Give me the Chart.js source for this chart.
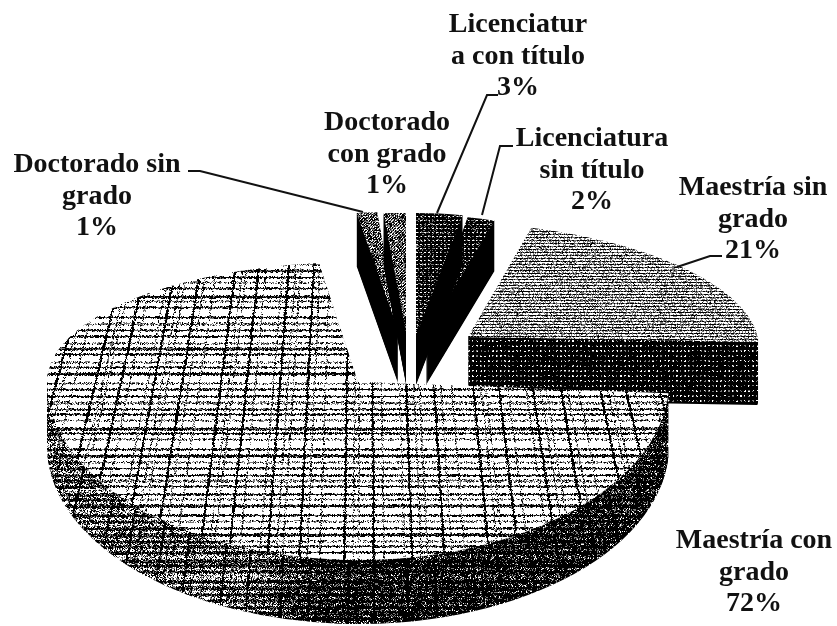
<!DOCTYPE html>
<html>
<head>
<meta charset="utf-8">
<style>
  html, body { margin: 0; background: #fff; }
  canvas { display: block; }
</style>
<script src="https://cdn.jsdelivr.net/npm/chart.js@4/dist/chart.umd.min.js"></script>
</head>
<body>
<canvas id="pieChart" width="837" height="626"></canvas>
<script>
const categories = ['Licenciatura con título', 'Licenciatura sin título', 'Maestría sin grado', 'Maestría con grado', 'Doctorado sin grado', 'Doctorado con grado'];
const percentValues = [3, 2, 21, 72, 1, 1];
const labelLines = [['Licenciatur', 'a con título'], ['Licenciatura', 'sin título'], ['Maestría sin', 'grado'], ['Maestría con', 'grado'], ['Doctorado sin', 'grado'], ['Doctorado', 'con grado']];

const W = 837, H = 626;

// where each exploded slice sits on the page, with a faked 3D tilt
const sliceLayout = [
    { x: 416, y: 335, rx: 249, up: 122, down: 80, depth: 50, lean: 0 },
    { x: 426, y: 335, rx: 222, up: 120, down: 80, depth: 50, lean: 0 },
    { x: 468, y: 337, rx: 290, up: 115, down: 80, depth: 63, lean: 0.24 },
    { x: 358, y: 382, rx: 311, up: 120, down: 178, depth: 64, lean: 0 },
    { x: 398, y: 330, rx: 330, up: 118, down: 80, depth: 53, lean: 0 },
    { x: 406, y: 332, rx: 358, up: 119, down: 80, depth: 52, lean: 0 }
];
const drawOrder = [4, 5, 1, 0, 2, 3];

const labelLayout = [
    { x: 518, y: 25 }, { x: 592, y: 139 }, { x: 753, y: 188 },
    { x: 754, y: 541 }, { x: 97, y: 165 }, { x: 387, y: 123 }
];
const leaderLines = [
    [[437, 213], [487, 95], [498, 95]],
    [[482, 215], [500, 146], [513, 146]],
    [[677, 267], [710, 256], [722, 256]],
    [[363, 212], [200, 171], [188, 171]]
];

function noise(x, y) {
    const s = Math.sin(x * 12.9898 + y * 78.233) * 43758.5453;
    return s - Math.floor(s);
}

// turns a brightness function into a scanned looking black and white bitmap
function makeTexture(ctx, paint, grain) {
    const c = document.createElement('canvas');
    c.width = W; c.height = H;
    const g = c.getContext('2d');
    const img = g.createImageData(W, H);
    for (let y = 0; y < H; y++) {
        for (let x = 0; x < W; x++) {
            const v = paint(x, y) + (noise(x, y) - 0.5) * grain;
            const p = v > 0.62 ? 255 : (v > 0.42 ? 120 : 0);
            const i = (y * W + x) * 4;
            img.data[i] = img.data[i + 1] = img.data[i + 2] = p;
            img.data[i + 3] = 255;
        }
    }
    g.putImageData(img, 0, 0);
    return ctx.createPattern(c, 'no-repeat');
}

// the woven look of the big slice: flat rows plus lines that meet far above the page
function weaveBrightness(rowDark, lineDark, rowSize, gapScale) {
    const c = document.createElement('canvas');
    c.width = W; c.height = H;
    const g = c.getContext('2d', { willReadFrequently: true });
    g.fillStyle = '#fff';
    g.fillRect(0, 0, W, H);
    const rows = [6, 7, 5, 6, 8, 5, 6, 10, 6, 7];
    let y = 0, n = 0;
    while (y < H) {
        g.fillStyle = rowDark[n % rowDark.length];
        g.fillRect(0, y, W, n % 4 === 1 ? rowSize + 1 : rowSize);
        y += rows[n % rows.length];
        n++;
    }
    const gaps = [7, 5, 13, 6, 10, 19, 7, 4, 12, 8, 16, 6];
    const vx = 365, vy = -760;
    let x = -500;
    n = 0;
    while (x < W + 600) {
        g.strokeStyle = n % 3 === 0 ? lineDark : '#666';
        g.lineWidth = n % 3 === 0 ? 2 : 1.25;
        g.beginPath();
        g.moveTo(vx, vy);
        g.lineTo(x, H);
        g.stroke();
        x += gaps[n % gaps.length] * gapScale;
        n++;
    }
    const px = g.getImageData(0, 0, W, H).data;
    return function (xx, yy) {
        // nudge the sample a little so the edges look rough like a scan
        const jy = Math.min(H - 1, yy + Math.floor(noise(xx, yy + 7) * 2));
        const jx = Math.min(W - 1, xx + Math.floor(noise(xx + 3, yy) * 2));
        return px[(jy * W + jx) * 4] / 255;
    };
}

function makeFills(ctx) {
    const mainTopWeave = weaveBrightness(['#444', '#888', '#555'], '#000', 2, 1.35);
    const mainSideWeave = weaveBrightness(['#333', '#555'], '#000', 3, 1.15);
    const mainTop = makeTexture(ctx, (x, y) => mainTopWeave(x, y), 0.5);
    const mainSide = makeTexture(ctx, (x, y) => {
        const fade = Math.max(0, Math.min(1, (x - 250) / 70));
        return mainSideWeave(x, y) * (0.62 - 0.3 * fade) + 0.04 * (1 - fade);
    }, 0.8);
    const lined = makeTexture(ctx, (x, y) => (y % 3 === 0 ? 0.32 : 0.68), 0.55);
    const linedSide = makeTexture(ctx, (x, y) => ((x % 4 < 2 && y % 5 < 2) ? 0.5 : 0.12), 0.6);
    const speckleMid = makeTexture(ctx, (x, y) => ((x + y) % 3 === 0 ? 0.6 : 0.36), 0.6);
    const speckleDark = makeTexture(ctx, (x, y) => ((x % 4 < 2 && y % 4 < 1) ? 0.7 : 0.22), 0.55);
    const wallDark = makeTexture(ctx, () => 0.14, 0.4);
    return {
        top: [speckleDark, speckleDark, lined, mainTop, speckleMid, speckleMid],
        side: [wallDark, wallDark, linedSide, mainSide, wallDark, wallDark]
    };
}

// draws one library arc squashed in two bands, so the near half of the disc can be deeper than the far half
function paintArc(ctx, arc, place, drop, fill) {
    const ghost = Object.create(arc);
    ghost.options = Object.assign({}, arc.options, { backgroundColor: fill, borderWidth: 0 });
    const k = place.rx / arc.outerRadius;
    const seam = place.y + drop;
    [[0, seam + 0.5, place.up, place.lean], [seam, H - seam, place.down, 0]].forEach(function (band) {
        ctx.save();
        ctx.beginPath();
        ctx.rect(0, band[0], W, band[1]);
        ctx.clip();
        ctx.translate(place.x, seam);
        ctx.transform(1, 0, band[3], 1, 0, 0);
        ctx.scale(k, band[2] / arc.outerRadius);
        ctx.translate(-arc.x, -arc.y);
        fill.setTransform(ctx.getTransform().inverse());
        ghost.draw(ctx);
        ctx.restore();
    });
}

let fills = null;

const tiltedSlices = {
    id: 'tiltedSlices',
    beforeDatasetsDraw(chart) {
        const ctx = chart.ctx;
        const arcs = chart.getDatasetMeta(0).data;
        if (!fills) fills = makeFills(ctx);
        drawOrder.forEach(function (i) {
            const place = sliceLayout[i];
            for (let d = place.depth; d > 0; d--) {
                paintArc(ctx, arcs[i], place, d, fills.side[i]);
            }
            paintArc(ctx, arcs[i], place, 0, fills.top[i]);
        });
        return false;
    },
    afterDraw(chart) {
        const ctx = chart.ctx;
        ctx.save();
        ctx.strokeStyle = '#111';
        ctx.lineWidth = 2;
        leaderLines.forEach(function (line) {
            ctx.beginPath();
            line.forEach(function (p, n) {
                if (n === 0) ctx.moveTo(p[0], p[1]);
                else ctx.lineTo(p[0], p[1]);
            });
            ctx.stroke();
        });
        ctx.fillStyle = '#111';
        ctx.font = 'bold 28px "Liberation Serif"';
        ctx.textAlign = 'center';
        ctx.textBaseline = 'middle';
        labelLines.forEach(function (lines, i) {
            const pos = labelLayout[i];
            lines.concat(percentValues[i] + '%').forEach(function (text, n) {
                ctx.fillText(text, pos.x, pos.y + n * 31.5);
            });
        });
        ctx.restore();
    }
};

new Chart(document.getElementById('pieChart'), {
    type: 'pie',
    data: {
        labels: categories,
        datasets: [{ data: percentValues, borderWidth: 0, backgroundColor: '#888' }]
    },
    options: {
        responsive: false,
        animation: false,
        layout: { padding: 0 },
        plugins: { legend: { display: false }, tooltip: { enabled: false } }
    },
    plugins: [tiltedSlices]
});
</script>
</body>
</html>
